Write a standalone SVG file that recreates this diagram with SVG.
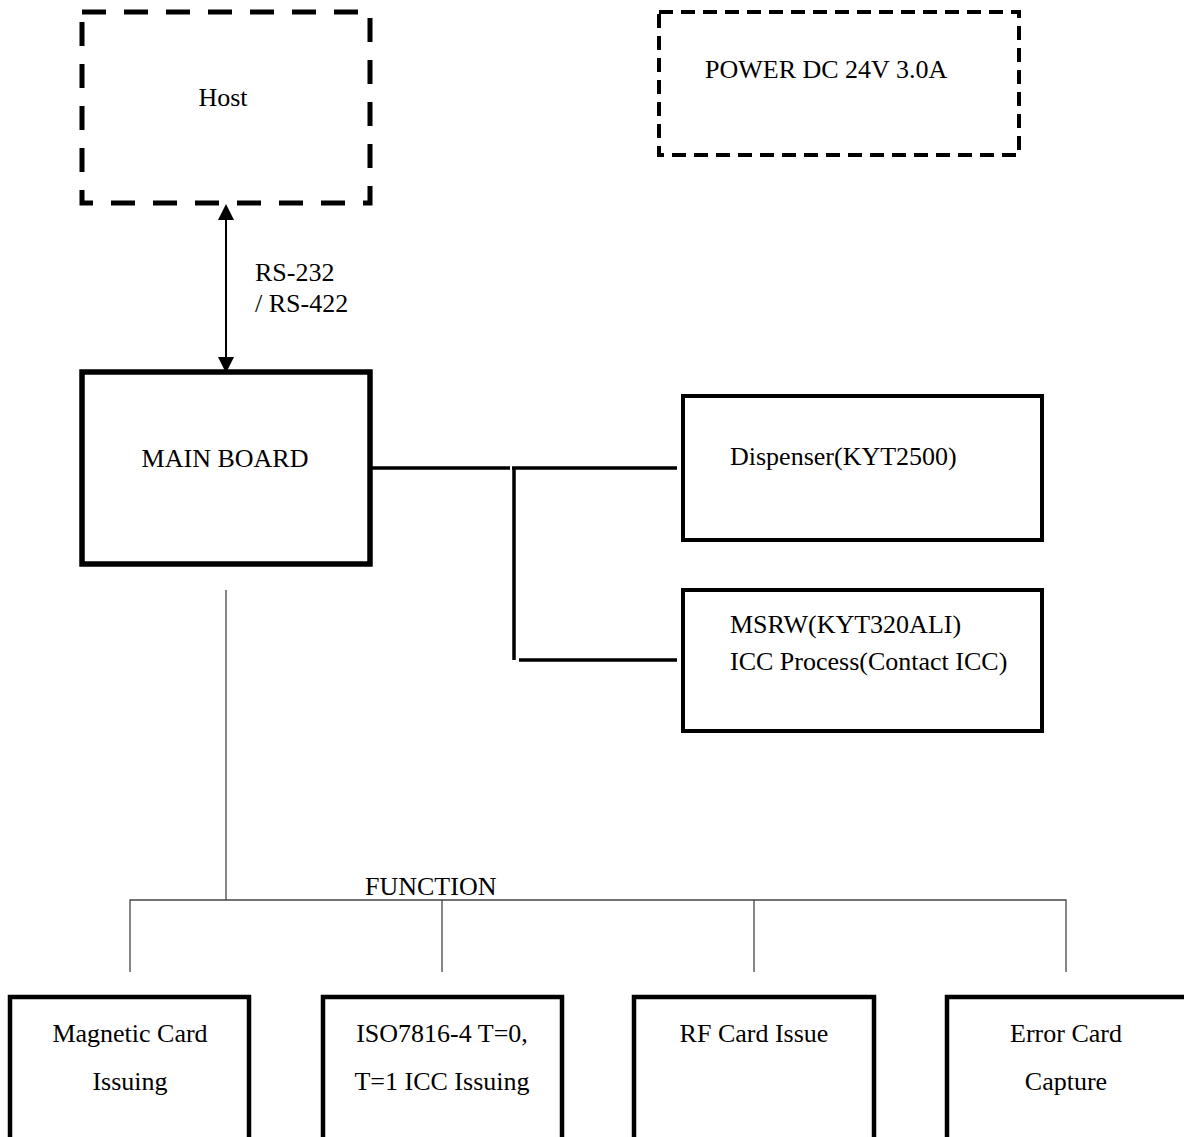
<svg xmlns="http://www.w3.org/2000/svg" width="1184" height="1137" viewBox="0 0 1184 1137">
<style>
text{font-family:"Liberation Serif","Times New Roman",serif;font-size:26px;fill:#000}
.mid{text-anchor:middle}
.box{fill:#fff;stroke:#000}
.thin{fill:none;stroke:#444;stroke-width:1.3}
.bold{fill:none;stroke:#000;stroke-width:3.5}
</style>
<rect width="1184" height="1137" fill="#fff"/>
<g id="connectors">
<line x1="226" y1="218" x2="226" y2="358" stroke="#000" stroke-width="2"/>
<polygon points="226,204 218,220 234,220" fill="#000"/>
<polygon points="226,373 218,357 234,357" fill="#000"/>
<path class="bold" d="M370 468 H510 M512 468 H677"/>
<path class="bold" d="M514 468 V660 M519 660 H677"/>
<path class="thin" d="M226 590 V900 M130 972 V900 H1066 V972 M442 900 V972 M754 900 V972"/>
<text x="365" y="895">FUNCTION</text>
<text x="255" y="281">RS-232</text>
<text x="255" y="312">/ RS-422</text>
</g>
<g id="host">
<rect class="box" x="82" y="12" width="288" height="191" stroke-width="5" stroke-dasharray="24 18"/>
<text class="mid" x="223" y="106">Host</text>
</g>
<g id="power">
<rect class="box" x="659" y="12" width="360" height="143" stroke-width="4" stroke-dasharray="14 8"/>
<text x="705" y="78">POWER DC 24V 3.0A</text>
</g>
<g id="mainboard">
<rect class="box" x="82" y="372" width="288" height="192" stroke-width="5.5"/>
<text class="mid" x="225" y="467">MAIN BOARD</text>
</g>
<g id="dispenser">
<rect class="box" x="683" y="396" width="359" height="144" stroke-width="4"/>
<text x="730" y="465">Dispenser(KYT2500)</text>
</g>
<g id="msrw">
<rect class="box" x="683" y="590" width="359" height="141" stroke-width="4"/>
<text x="730" y="633">MSRW(KYT320ALI)</text>
<text x="730" y="670">ICC Process(Contact ICC)</text>
</g>
<g id="magnetic">
<rect class="box" x="10" y="997" width="239" height="160" stroke-width="4.5"/>
<text class="mid" x="130" y="1042">Magnetic Card</text>
<text class="mid" x="130" y="1090">Issuing</text>
</g>
<g id="iso">
<rect class="box" x="323" y="997" width="239" height="160" stroke-width="4.5"/>
<text class="mid" x="442" y="1042">ISO7816-4 T=0,</text>
<text class="mid" x="442" y="1090">T=1 ICC Issuing</text>
</g>
<g id="rf">
<rect class="box" x="634" y="997" width="240" height="160" stroke-width="4.5"/>
<text class="mid" x="754" y="1042">RF Card Issue</text>
</g>
<g id="error">
<rect class="box" x="947" y="997" width="240" height="160" stroke-width="4.5"/>
<text class="mid" x="1066" y="1042">Error Card</text>
<text class="mid" x="1066" y="1090">Capture</text>
</g>
</svg>
